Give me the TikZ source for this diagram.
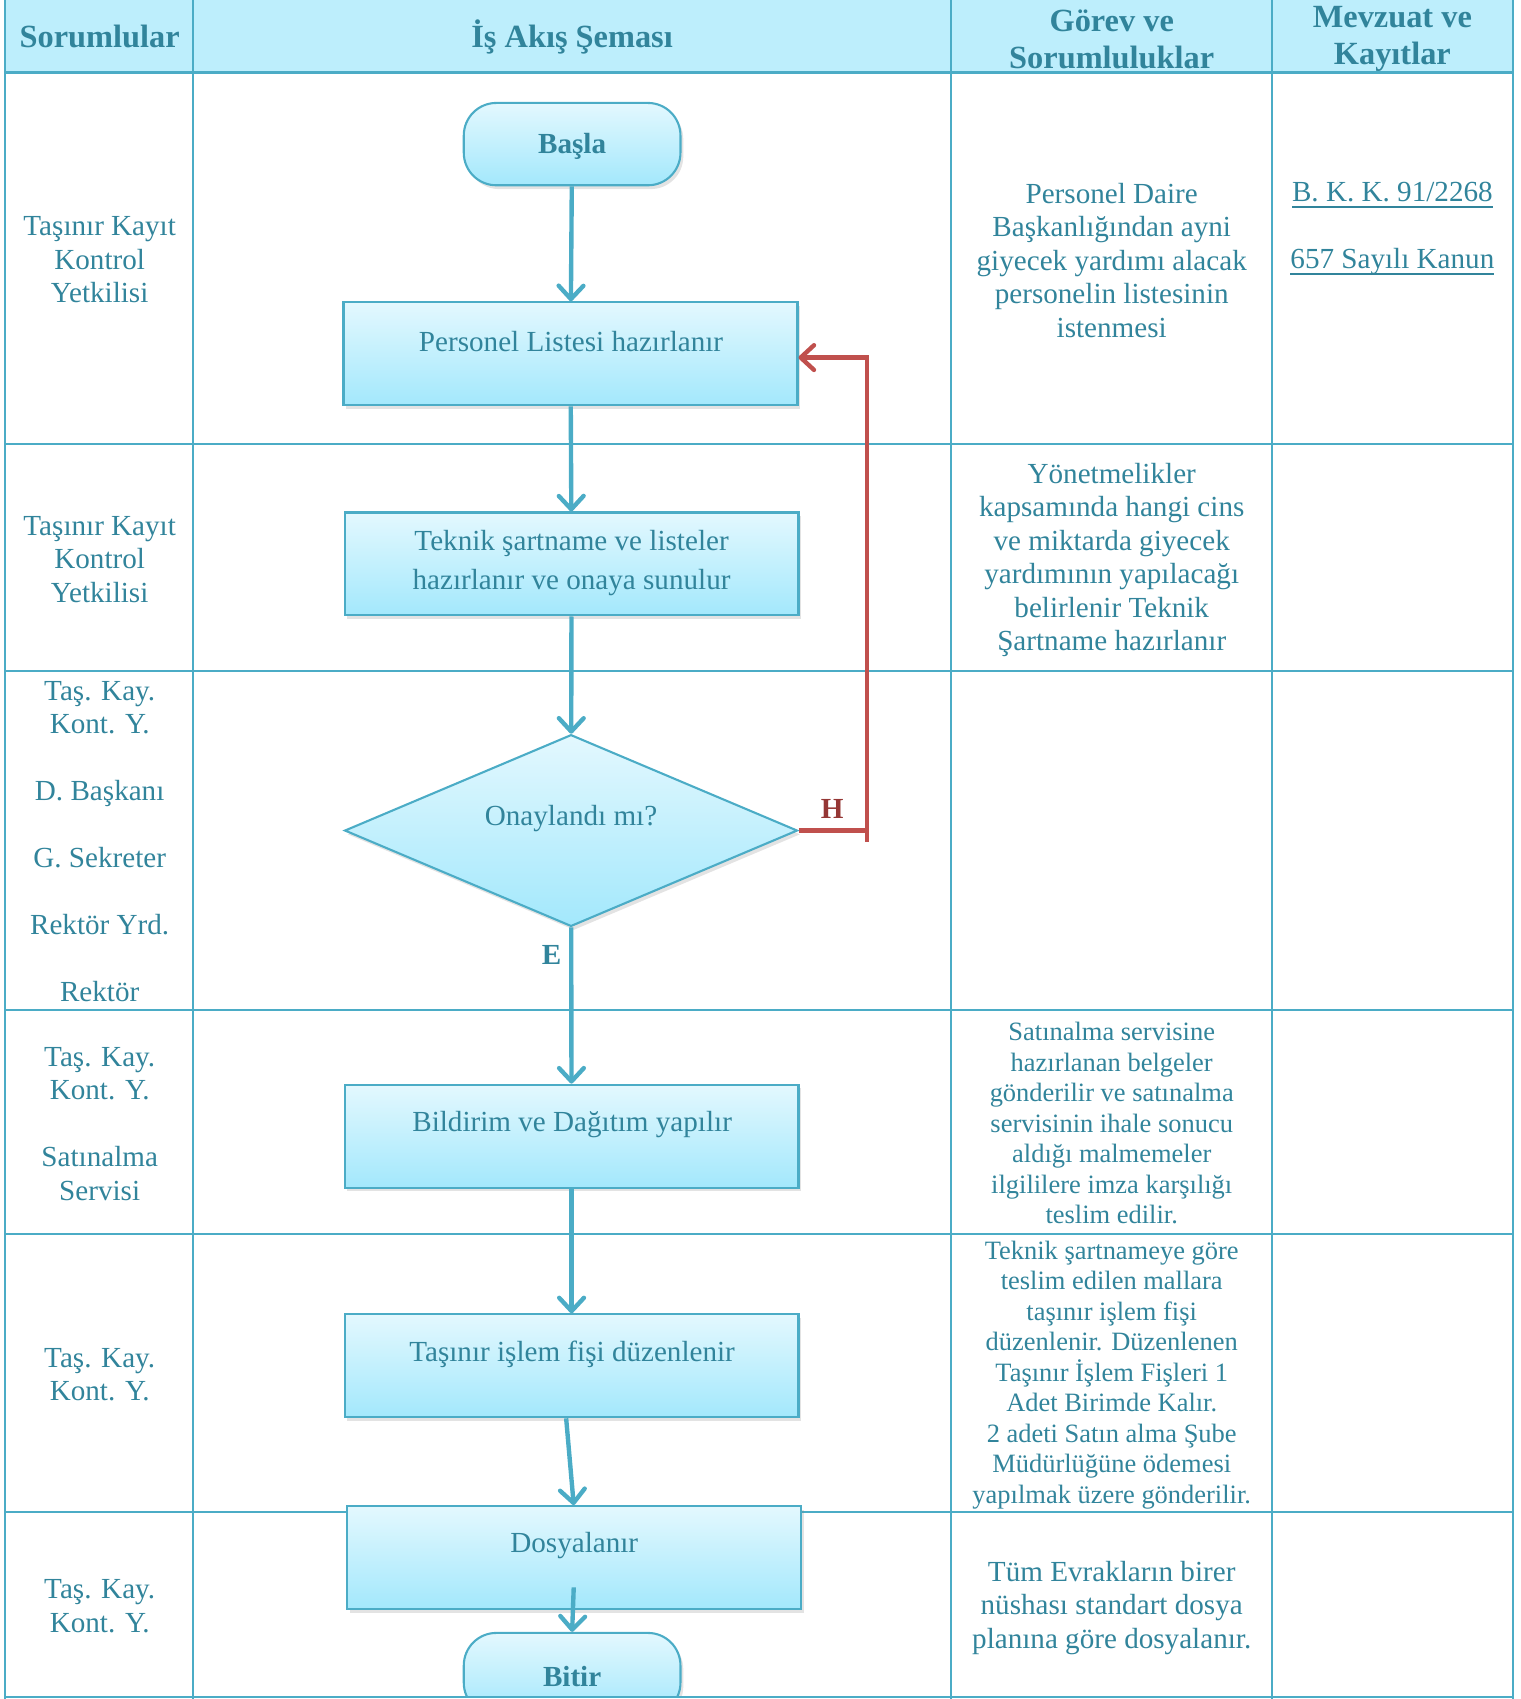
\documentclass[tikz,border=0pt]{standalone}
\usepackage{fontspec}
\setmainfont{Liberation Serif}
\newcommand\thickul[1]{\setbox0\hbox{#1}\rlap{\rule[-3.2pt]{\wd0}{1.1pt}}\box0}
\usetikzlibrary{arrows.meta,shapes.geometric,shadows}
\definecolor{txt}{HTML}{31849B}
\definecolor{gridc}{HTML}{4BACC6}
\definecolor{headc}{HTML}{BDEEFC}
\definecolor{btop}{HTML}{E3F8FE}
\definecolor{bbot}{HTML}{A3E8FC}
\definecolor{redl}{HTML}{C0504D}
\definecolor{redt}{HTML}{953735}
\tikzset{
  gridline/.style={draw=gridc,line width=1.1pt},
  headline/.style={draw=gridc,line width=1.8pt},
  body/.style={text=txt,font=\fontsize{15.3}{17.6}\selectfont,align=center,inner sep=0pt},
  smalltxt/.style={text=txt,font=\fontsize{13.9}{16}\selectfont,align=center,inner sep=0pt},
  headtxt/.style={text=txt,font=\bfseries\fontsize{17}{19.3}\selectfont,align=center,inner sep=0pt},
  boldtxt/.style={text=txt,font=\bfseries\fontsize{15.3}{17.6}\selectfont,inner sep=0pt},
  shade/.style={drop shadow={opacity=0.22,shadow xshift=1.5pt,shadow yshift=-2pt}},
  fbox/.style={draw=gridc,line width=1.1pt,top color=btop,bottom color=bbot,minimum width=8.38cm,minimum height=1.9cm,inner sep=0pt,shade},
  term/.style={fbox,rounded corners=0.6cm,minimum width=4cm,minimum height=1.52cm},
  decision/.style={diamond,draw=gridc,line width=1.1pt,top color=btop,bottom color=bbot,minimum width=8.36cm,minimum height=3.54cm,inner sep=0pt,shade},
  flow/.style={draw=gridc,line width=2.3pt,-{Straight Barb[length=7pt,width=13pt,round]}},
  backflow/.style={draw=redl,line width=2.3pt,-{Straight Barb[length=7pt,width=13pt,round]}},
}
\begin{document}
\begin{tikzpicture}[x=0.02cm,y=-0.02cm]
\useasboundingbox (0,0) rectangle (1403,1568);
% header background
\fill[headc] (5,0) rectangle (1396,67);
% grid
\foreach \xx in {5,178,878,1174,1396} \draw[gridline] (\xx,0) -- (\xx,1568);
\foreach \yy in {410,619,932,1139,1395,1566.5} \draw[gridline] (5,\yy) -- (1396,\yy);
\draw[headline] (5,67) -- (1396,67);
% header texts
\node[headtxt] (h1) at (92,34) {Sorumlular};
\node[headtxt] (h2) at (528,34) {İş Akış Şeması};
\node[headtxt] (h3) at (1026,36) {Görev ve\\Sorumluluklar};
\node[headtxt] (h4) at (1285,36) {Mevzuat ve\\Kayıtlar};
% left column
\node[body] (l1) at (92,240) {Taşınır Kayıt\\Kontrol\\Yetkilisi};
\node[body] (l2) at (92,516) {Taşınır Kayıt\\Kontrol\\Yetkilisi};
\node[body] (l3) at (92,776.5) {Taş. Kay.\\Kont. Y.\\[17.6pt]D. Başkanı\\[17.6pt]G. Sekreter\\[17.6pt]Rektör Yrd.\\[17.6pt]Rektör};
\node[body] (l4) at (92,1037) {Taş. Kay.\\Kont. Y.\\[17.6pt]Satınalma\\Servisi};
\node[body] (l5) at (92,1268.5) {Taş. Kay.\\Kont. Y.};
\node[body] (l6) at (92,1482.5) {Taş. Kay.\\Kont. Y.};
% duties column
\node[body] (g1) at (1026,240) {Personel Daire\\Başkanlığından ayni\\giyecek yardımı alacak\\personelin listesinin\\istenmesi};
\node[body] (g2) at (1026,517) {Yönetmelikler\\kapsamında hangi cins\\ve miktarda giyecek\\yardımının yapılacağı\\belirlenir Teknik\\Şartname hazırlanır};
\node[smalltxt] (g4) at (1026,1036.5) {Satınalma servisine\\hazırlanan belgeler\\gönderilir ve satınalma\\servisinin ihale sonucu\\aldığı malmemeler\\ilgililere imza karşılığı\\teslim edilir.};
\node[smalltxt] (g5) at (1026,1269) {Teknik şartnameye göre\\teslim edilen mallara\\taşınır işlem fişi\\düzenlenir. Düzenlenen\\Taşınır İşlem Fişleri 1\\Adet Birimde Kalır.\\2 adeti Satın alma Şube\\Müdürlüğüne ödemesi\\yapılmak üzere gönderilir.};
\node[body] (g6) at (1026,1484) {Tüm Evrakların birer\\nüshası standart dosya\\planına göre dosyalanır.};
% legislation column
\node[body,anchor=base] (m1) at (1285,186) {\thickul{B. K. K. 91/2268}};
\node[body,anchor=base] (m2) at (1285,248) {\thickul{657 Sayılı Kanun}};
% flowchart
\node[term] (basla) at (528,133) {};
\node[boldtxt] (tbasla) at (528,135) {Başla};
\node[fbox] (b1) at (526.5,326.5) {};
\node[body] (tb1) at (527,315) {Personel Listesi hazırlanır};
\node[fbox] (b2) at (527.5,520.5) {};
\node[body,font=\fontsize{15.3}{20.4}\selectfont] (tb2) at (527.5,519.5) {Teknik şartname ve listeler\\hazırlanır ve onaya sunulur};
\node[decision] (dec) at (527,766.5) {};
\node[body] (tdec) at (527,755.5) {Onaylandı mı?};
\node[fbox] (b3) at (527.5,1048.5) {};
\node[body] (tb3) at (528,1037.5) {Bildirim ve Dağıtım yapılır};
\node[fbox] (b4) at (527.5,1260.5) {};
\node[body] (tb4) at (528,1249.5) {Taşınır işlem fişi düzenlenir};
\node[fbox] (b5) at (529.5,1437.5) {};
\node[body] (tb5) at (530,1426.5) {Dosyalanır};
\begin{scope}
\clip (0,0) rectangle (1403,1565);
\node[term] (bitir) at (528,1545) {};
\end{scope}
\node[boldtxt] (tbitir) at (528,1547) {Bitir};
% connectors
\draw[flow] (basla) -- (b1);
\draw[flow] (b1) -- (b2);
\draw[flow] (b2) -- (dec);
\draw[flow] (dec) -- (b3);
\draw[flow] (b3) -- (b4);
\draw[flow] ([xshift=-0.1cm]b4.south) -- (b5.north);
\draw[flow] ([yshift=0.42cm]b5.south) -- (bitir.north);
\coordinate (c1) at (800,766.5);
\coordinate (c2) at (800,330);
\draw[backflow] (dec.east) -- (c1) -- (c2) -- (c2 -| b1.east);
\draw[draw=redl,line width=2.3pt] (c1) -- ++(0,11);
\node[text=redt,font=\bfseries\fontsize{15.3}{17.6}\selectfont,inner sep=0pt] (lh) at (768,747) {H};
\node[boldtxt] (le) at (509,881) {E};
\end{tikzpicture}
\end{document}
